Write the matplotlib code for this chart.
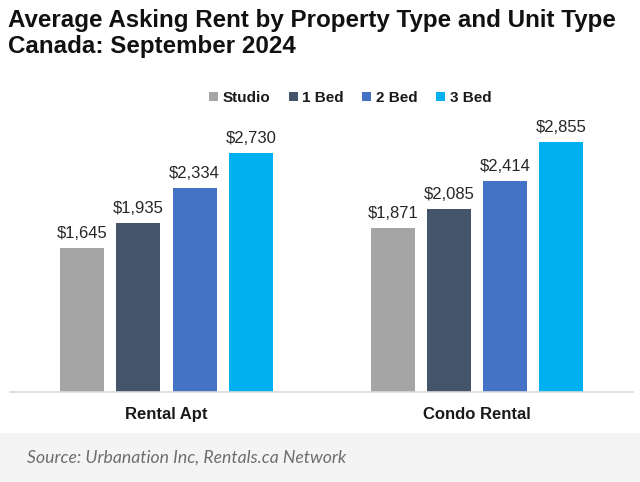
import matplotlib.pyplot as plt
from matplotlib.patches import Rectangle
import numpy as np

property_types = ["Rental Apt", "Condo Rental"]
unit_types = ["Studio", "1 Bed", "2 Bed", "3 Bed"]
studio = [1645, 1871]
one_bed = [1935, 2085]
two_bed = [2334, 2414]
three_bed = [2730, 2855]
colors = ["#a5a5a5", "#44546a", "#4472c4", "#00b0f0"]

W, H = 640, 482
fig = plt.figure(figsize=(6.4, 4.82), dpi=100)
plt.rcParams["font.family"] = ["Liberation Sans", "DejaVu Sans"]

# grey footer band
fig.patches.append(Rectangle((0, 0), 1, 49 / H, transform=fig.transFigure,
                             facecolor="#f4f4f4", edgecolor="none", zorder=0))

ax = fig.add_axes([10 / W, (H - 392) / H, 623 / W, 254 / H])
x = np.arange(len(property_types))
step = 0.181
width = 0.142
series = [studio, one_bed, two_bed, three_bed]
for i, (vals, col, name) in enumerate(zip(series, colors, unit_types)):
    pos = x + (i - 1.5) * step
    bars = ax.bar(pos, vals, width, color=col, label=name)
    for b, v in zip(bars, vals):
        ax.annotate(f"${v:,}", (b.get_x() + b.get_width() / 2, v),
                    xytext=(0, 5), textcoords="offset points",
                    ha="center", va="bottom", fontsize=12, color="#262626")

ax.set_xlim(-0.504, 1.502)
ax.set_ylim(0, 2900)
ax.set_yticks([])
ax.set_xticks(x)
ax.set_xticklabels(property_types, fontsize=12, fontweight="bold", color="#1a1a1a")
ax.tick_params(axis="x", length=0, pad=11)
for s in ["top", "right", "left"]:
    ax.spines[s].set_visible(False)
ax.spines["bottom"].set_color("#d9d9d9")
ax.spines["bottom"].set_linewidth(1.2)
ax.patch.set_alpha(0)

leg = fig.legend(loc="center", bbox_to_anchor=(350 / W, 1 - 98 / H), ncol=4,
                 frameon=False, prop={"weight": "bold", "size": 11},
                 handlelength=0.6, handleheight=0.6, handletextpad=0.3,
                 columnspacing=1.2)
for t in leg.get_texts():
    t.set_color("#1a1a1a")

fig.text(8 / W, 1 - 21 / H, "Average Asking Rent by Property Type and Unit Type",
         fontsize=17.4, fontweight="bold", va="center", ha="left", color="#111111")
fig.text(8 / W, 1 - 47 / H, "Canada: September 2024",
         fontsize=17.4, fontweight="bold", va="center", ha="left", color="#111111")

fig.text(27 / W, 1 - 458 / H, "Source: Urbanation Inc, Rentals.ca Network",
         fontsize=12.7, style="italic", color="#6e6e6e", va="center", ha="left",
         family=["Lato", "DejaVu Sans"])

fig.savefig("out.png", dpi=100)
